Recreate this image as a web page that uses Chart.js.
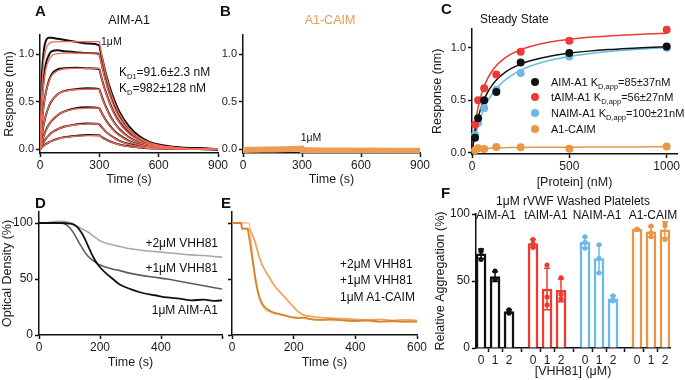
<!DOCTYPE html>
<html>
<head>
<meta charset="utf-8">
<script src="https://cdn.jsdelivr.net/npm/chart.js@4.4.1/dist/chart.umd.min.js"></script>
<style>
  html, body { margin: 0; padding: 0; background: #fff; }
  #fig { position: relative; width: 685px; height: 380px; overflow: hidden; font-family: 'Liberation Sans', Arial, sans-serif; color: #1a1a1a; }
  #fig canvas { position: absolute; }
  .lbl { position: absolute; white-space: nowrap; line-height: 1; }
  .lbl sub { font-size: 7.5px; vertical-align: -3px; line-height: 0; }
  .dot { position: absolute; width: 8px; height: 8px; border-radius: 50%; transform: translate(-50%, -50%); }
</style>
</head>
<body>
<div id="fig"></div>
<script>
// ---------- A: AIM-A1 binding traces (7 concentrations, top = 1 uM) ----------
const timeA = [0, 5, 10, 20, 30, 45, 60, 90, 120, 180, 240, 300, 305, 315, 330, 350, 375, 400, 450, 500, 550, 600, 700, 800, 900];
const aimTraces = [
  [0, 0.5, 0.8, 1.05, 1.14, 1.17, 1.17, 1.16, 1.15, 1.13, 1.11, 1.09, 1.04, 0.95, 0.82, 0.67, 0.52, 0.4, 0.24, 0.14, 0.08, 0.05, 0.02, 0.01, 0],
  [0, 0.3, 0.5, 0.76, 0.9, 0.99, 1.03, 1.04, 1.03, 1.02, 1.01, 1.0, 0.96, 0.87, 0.74, 0.6, 0.46, 0.35, 0.2, 0.12, 0.07, 0.04, 0.015, 0.01, 0],
  [0, 0.16, 0.29, 0.48, 0.6, 0.72, 0.79, 0.84, 0.85, 0.855, 0.85, 0.84, 0.8, 0.72, 0.62, 0.5, 0.38, 0.29, 0.17, 0.1, 0.06, 0.035, 0.012, 0.005, 0],
  [0, 0.08, 0.15, 0.27, 0.36, 0.45, 0.51, 0.58, 0.61, 0.63, 0.64, 0.63, 0.6, 0.54, 0.46, 0.37, 0.28, 0.215, 0.125, 0.072, 0.042, 0.025, 0.01, 0.004, 0],
  [0, 0.04, 0.08, 0.145, 0.2, 0.26, 0.3, 0.36, 0.395, 0.43, 0.44, 0.43, 0.41, 0.37, 0.315, 0.255, 0.195, 0.15, 0.088, 0.05, 0.03, 0.018, 0.006, 0.002, 0],
  [0, 0.02, 0.04, 0.08, 0.11, 0.145, 0.175, 0.21, 0.235, 0.26, 0.27, 0.265, 0.25, 0.225, 0.19, 0.155, 0.12, 0.09, 0.054, 0.032, 0.02, 0.012, 0.004, 0.001, 0],
  [0, 0.01, 0.02, 0.04, 0.055, 0.073, 0.088, 0.11, 0.125, 0.14, 0.148, 0.146, 0.138, 0.124, 0.106, 0.086, 0.066, 0.05, 0.03, 0.018, 0.01, 0.006, 0.002, 0.001, 0]
];
const aimFits = [
  [0, 0.41, 0.67, 0.94, 1.05, 1.11, 1.125, 1.13, 1.13, 1.13, 1.13, 1.13, 1.07, 0.96, 0.81, 0.65, 0.495, 0.376, 0.217, 0.125, 0.072, 0.042, 0.014, 0.005, 0],
  [0, 0.26, 0.455, 0.705, 0.845, 0.94, 0.985, 1.005, 1.01, 1.01, 1.01, 1.01, 0.955, 0.856, 0.726, 0.583, 0.442, 0.336, 0.194, 0.112, 0.065, 0.037, 0.012, 0.004, 0],
  [0, 0.155, 0.28, 0.47, 0.595, 0.71, 0.775, 0.825, 0.845, 0.85, 0.85, 0.85, 0.804, 0.721, 0.611, 0.49, 0.372, 0.283, 0.163, 0.094, 0.054, 0.031, 0.01, 0.003, 0],
  [0, 0.083, 0.154, 0.27, 0.358, 0.451, 0.513, 0.58, 0.608, 0.626, 0.63, 0.63, 0.596, 0.534, 0.453, 0.364, 0.276, 0.21, 0.121, 0.07, 0.04, 0.023, 0.008, 0.003, 0],
  [0, 0.041, 0.079, 0.144, 0.196, 0.258, 0.304, 0.363, 0.395, 0.423, 0.431, 0.434, 0.41, 0.368, 0.312, 0.25, 0.19, 0.145, 0.083, 0.048, 0.028, 0.016, 0.005, 0.002, 0],
  [0, 0.022, 0.042, 0.078, 0.108, 0.144, 0.173, 0.211, 0.235, 0.257, 0.265, 0.268, 0.254, 0.227, 0.193, 0.155, 0.117, 0.089, 0.051, 0.03, 0.017, 0.01, 0.003, 0.001, 0],
  [0, 0.011, 0.02, 0.038, 0.053, 0.072, 0.087, 0.109, 0.123, 0.137, 0.143, 0.145, 0.137, 0.123, 0.104, 0.084, 0.064, 0.048, 0.028, 0.016, 0.009, 0.005, 0.002, 0.001, 0]
];

// ---------- B: A1-CAIM, 1 uM ----------
const timeB = [0, 50, 100, 150, 200, 250, 299, 301, 350, 400, 450, 500, 550, 600, 650, 700, 750, 800, 850, 900];
const caimTrace = [-0.008, -0.006, -0.004, -0.002, 0, 0.002, 0.006, -0.01, -0.012, -0.013, -0.014, -0.015, -0.014, -0.016, -0.015, -0.016, -0.017, -0.016, -0.017, -0.017];

// ---------- C: steady state ----------
const proteinConc = [15.6, 31.25, 62.5, 125, 250, 500, 1000];
const ssAIM = [0.145, 0.33, 0.5, 0.58, 0.86, 0.95, 1.01];
const ssTAIM = [0.27, 0.5, 0.615, 0.745, 0.96, 1.065, 1.17];
const ssNAIM = [0.17, 0.285, 0.425, 0.6, 0.76, 0.915, 1.0];
const ssCAIM = [0.025, 0.045, 0.038, 0.057, 0.053, 0.04, 0.062];
const fitConc = [0, 5, 10, 20, 30, 45, 60, 80, 100, 130, 160, 200, 250, 300, 400, 500, 600, 700, 800, 900, 1000];
const fitAIM = [0, 0.072, 0.135, 0.24, 0.324, 0.423, 0.498, 0.576, 0.635, 0.702, 0.751, 0.8, 0.844, 0.876, 0.919, 0.947, 0.967, 0.982, 0.993, 1.002, 1.009];
const fitTAIM = [0, 0.098, 0.182, 0.316, 0.419, 0.535, 0.621, 0.706, 0.769, 0.839, 0.889, 0.938, 0.98, 1.011, 1.053, 1.079, 1.098, 1.111, 1.121, 1.13, 1.136];
const fitNAIM = [0, 0.052, 0.1, 0.183, 0.254, 0.341, 0.413, 0.489, 0.55, 0.622, 0.677, 0.733, 0.786, 0.825, 0.88, 0.917, 0.943, 0.963, 0.978, 0.99, 1.0];
const fitCAIM = [0, 0.012, 0.02, 0.03, 0.035, 0.04, 0.043, 0.045, 0.047, 0.048, 0.05, 0.051, 0.052, 0.053, 0.054, 0.055, 0.056, 0.057, 0.057, 0.058, 0.058];

// ---------- D: aggregometry AIM-A1 ----------
const timeD = [0, 30, 60, 80, 100, 110, 120, 130, 140, 150, 160, 170, 180, 190, 200, 220, 240, 265, 300, 340, 380, 420, 460, 500, 540, 580, 600];
const odAIM = [100, 100, 100, 100, 99.5, 99, 97.5, 95, 91, 86, 80, 74, 68.5, 64, 60.5, 55, 50.5, 45, 41, 37.5, 35.5, 33.5, 32.5, 31, 31.5, 30.5, 31];
const odAIM1 = [100, 100, 100, 99.5, 96, 92.5, 88, 83, 78.5, 74, 70.5, 68, 66, 64, 62.5, 60.5, 59, 57.5, 55, 53, 51.5, 50, 48, 46, 44, 42, 41];
const odAIM2 = [null, 100.5, 101.5, 101.5, 100.5, 99.5, 98, 96.5, 95, 93.5, 92, 90, 88, 86, 84, 82, 80.5, 79, 77, 75.5, 74.5, 73.5, 72.5, 71.5, 71, 70, 69.5];

// ---------- E: aggregometry A1-CAIM ----------
const timeE = [0, 30, 32, 50, 55, 60, 65, 70, 75, 80, 90, 100, 110, 120, 135, 150, 170, 190, 210, 230, 260, 290, 320, 360, 400, 440, 480, 520, 560, 600];
const odCAIM = [100, 100, 95, 95, 88, 80, 70, 61, 52, 44, 33, 27, 24, 22, 20, 19, 17.5, 16, 15, 15.5, 14, 13.5, 14, 13, 12.5, 13, 12, 12.5, 12, 12];
const odCAIM1 = [100, 100, 100, 100, 100, 90, 75, 62, 50, 42, 31, 26, 22, 21, 19.5, 18.5, 17.5, 16.5, 16, 15, 14, 13.5, 13, 13, 12.5, 12.5, 12, 12, 12, 12];
const odCAIM2 = [100, 100, 95, 95, 94.5, 93, 90, 87, 83, 78, 68, 61.5, 56.5, 52, 45, 40, 34, 28, 22, 18, 16.5, 15.5, 15, 14.5, 14, 13.5, 14, 13, 13.5, 13];

// ---------- F: washed platelet aggregation ----------
const constructs = ['AIM-A1', 'tAIM-A1', 'NAIM-A1', 'A1-CAIM'];
const vhhLevels = ['0', '1', '2'];
const aggMean = [[70.3, 53.3, 27.2], [78, 44, 43], [78.8, 66.7, 36.7], [88.5, 86.7, 88.2]];
const aggSD = [[3.5, 3.6, 1.3], [3, 15.5, 8.5], [4, 10.5, 2.2], [0.4, 4, 6]];
const aggReps = [
  [[73, 72, 66], [57.5, 51.5, 51], [28.5, 27, 26]],
  [[81, 78, 75], [62, 38, 32], [52.5, 40, 36.5]],
  [[83, 79, 74.5], [77, 67, 56], [39, 36, 35]],
  [[88.8, 88.5, 88.2], [91, 86, 83], [92.5, 91, 81]]
];

const BLACK = '#111', RED = '#ee3a30', BLUE = '#6cb8e8', ORANGE = '#ea9644';
const groupColors = [BLACK, RED, BLUE, ORANGE];
const GROUP_STEP = 3.714;
const barPos = (g, j) => g * GROUP_STEP + j;

Chart.defaults.font.family = "'Liberation Sans', Arial, sans-serif";
Chart.defaults.color = '#1a1a1a';

const fig = document.getElementById('fig');

function axis(o) {
  return {
    type: 'linear', min: o.min, max: o.max, offset: false,
    border: { display: true, color: '#111', width: 1.5 },
    grid: { display: true, drawOnChartArea: false, drawTicks: true, tickLength: 4, color: '#111', tickWidth: 1.5 },
    ticks: { display: o.showLabels !== false, autoSkip: false, maxRotation: 0, padding: o.pad == null ? 1 : o.pad,
             font: { size: o.size || 12 }, color: '#1a1a1a', callback: o.fmt || (v => String(v)) },
    afterBuildTicks: s => { s.ticks = o.ticks.map(v => ({ value: v })); },
    title: o.title ? { display: true, text: o.title, font: { size: 12.5 }, color: '#1a1a1a', padding: { top: o.tp || 0, bottom: o.tp || 0 } } : { display: false },
    afterFit: s => {
      if (o.w != null) s.width = o.w;
      if (o.h != null) s.height = o.h;
      s.paddingLeft = s.paddingRight = s.paddingTop = s.paddingBottom = 0;
    }
  };
}

function makeChart(box, pad, config) {
  const cv = document.createElement('canvas');
  cv.width = box[2]; cv.height = box[3];
  cv.style.left = box[0] + 'px'; cv.style.top = box[1] + 'px';
  cv.style.width = box[2] + 'px'; cv.style.height = box[3] + 'px';
  fig.appendChild(cv);
  config.options = Object.assign({
    responsive: false, animation: false, events: [],
    layout: { padding: Object.assign({ left: 0, right: 0, top: 0, bottom: 0 }, pad) },
    plugins: { legend: { display: false }, tooltip: { enabled: false } }
  }, config.options);
  return new Chart(cv, config);
}

function series(xs, ys, color, width, extra) {
  return Object.assign({
    type: 'line', data: xs.map((x, i) => ({ x, y: ys[i] })), borderColor: color, borderWidth: width,
    pointRadius: 0, fill: false, cubicInterpolationMode: 'monotone'
  }, extra || {});
}

function dots(xs, ys, color) {
  return { type: 'scatter', data: xs.map((x, i) => ({ x, y: ys[i] })), pointRadius: 4, pointBackgroundColor: color,
           pointBorderWidth: 0, showLine: false, clip: 8 };
}

// A
makeChart([0, 0, 228, 190], { top: 35, right: 10 }, {
  type: 'line',
  data: { datasets: [
    ...aimFits.map(f => series(timeA, f, '#f26a58', 1.3)),
    ...aimTraces.map(t => series(timeA, t, BLACK, 2))
  ] },
  options: { scales: {
    x: axis({ min: 0, max: 900, ticks: [0, 300, 600, 900], h: 37, title: 'Time (s)', tp: 3 }),
    y: axis({ min: -0.04, max: 1.2, ticks: [0, 0.5, 1], fmt: v => v.toFixed(1), size: 11, w: 40, pad: 2, title: 'Response (nm)', tp: 2 })
  } }
});

// B
makeChart([220, 0, 210, 190], { top: 35, right: 10 }, {
  type: 'line',
  data: { datasets: [series(timeB, caimTrace, '#ed9b55', 6, { cubicInterpolationMode: 'default', tension: 0 })] },
  options: { scales: {
    x: axis({ min: 0, max: 900, ticks: [0, 300, 600, 900], h: 37, title: 'Time (s)', tp: 3 }),
    y: axis({ min: -0.04, max: 1.2, ticks: [0, 0.5, 1], fmt: v => v.toFixed(1), size: 11, w: 23, pad: 2 })
  } }
});

// C
makeChart([428, 0, 257, 190], { top: 28.7, right: 8 }, {
  type: 'scatter',
  data: { datasets: [
    dots(proteinConc, ssAIM, BLACK), dots(proteinConc, ssTAIM, RED), dots(proteinConc, ssNAIM, BLUE), dots(proteinConc, ssCAIM, ORANGE),
    series(fitConc, fitAIM, BLACK, 1.5), series(fitConc, fitTAIM, RED, 1.5), series(fitConc, fitNAIM, BLUE, 1.5), series(fitConc, fitCAIM, ORANGE, 1.5)
  ] },
  options: { scales: {
    x: axis({ min: 0, max: 1053, ticks: [0, 500, 1000], h: 36, title: '[Protein] (nM)', tp: 0 }),
    y: axis({ min: -0.01, max: 1.18, ticks: [0, 0.5, 1], fmt: v => v.toFixed(1), size: 11, w: 44, pad: 2, title: 'Response (nm)', tp: 2 })
  } }
});

// D
makeChart([0, 190, 228, 190], { top: 21.8, right: 6 }, {
  type: 'line',
  data: { datasets: [
    series(timeD, odAIM, BLACK, 1.8), series(timeD, odAIM1, '#5c5c5c', 1.6), series(timeD, odAIM2, '#a9a9a9', 1.6)
  ] },
  options: { scales: {
    x: axis({ min: 0, max: 600, ticks: [0, 200, 400, 600], fmt: v => v === 600 ? '' : String(v), h: 45, title: 'Time (s)', tp: 10 }),
    y: axis({ min: 0, max: 110, ticks: [0, 50, 100], w: 39, pad: 2, title: 'Optical Density (%)', tp: 0 })
  } }
});

// E
makeChart([222, 190, 205, 190], { top: 21.8, right: 10 }, {
  type: 'line',
  data: { datasets: [
    series(timeE, odCAIM, '#d9822b', 1.8), series(timeE, odCAIM2, '#e9a862', 1.8), series(timeE, odCAIM1, '#f3d0a8', 1.8)
  ] },
  options: { scales: {
    x: axis({ min: 0, max: 600, ticks: [0, 200, 400, 600], h: 45, title: 'Time (s)', tp: 10 }),
    y: axis({ min: 0, max: 110, ticks: [0, 50, 100], w: 10, showLabels: false })
  } }
});

// F
const barData = [], barBorders = [], repData = [], repColors = [], barTicks = [];
constructs.forEach((c, g) => {
  vhhLevels.forEach((lv, j) => {
    barData.push({ x: barPos(g, j), y: aggMean[g][j] });
    barBorders.push(groupColors[g]);
    barTicks.push(barPos(g, j));
    aggReps[g][j].forEach(v => { repData.push({ x: barPos(g, j), y: v }); repColors.push(groupColors[g]); });
  });
});
const errorBars = {
  id: 'errorBars',
  afterDatasetsDraw(chart) {
    const { ctx, scales: { x, y } } = chart;
    ctx.save();
    ctx.lineWidth = 1.5;
    constructs.forEach((c, g) => {
      aggMean[g].forEach((m, j) => {
        const px = x.getPixelForValue(barPos(g, j));
        const top = y.getPixelForValue(m + aggSD[g][j]);
        const bot = y.getPixelForValue(m - aggSD[g][j]);
        ctx.strokeStyle = groupColors[g];
        ctx.beginPath();
        ctx.moveTo(px, top); ctx.lineTo(px, bot);
        ctx.moveTo(px - 3, top); ctx.lineTo(px + 3, top);
        ctx.moveTo(px - 3, bot); ctx.lineTo(px + 3, bot);
        ctx.stroke();
      });
    });
    ctx.restore();
  }
};
makeChart([428, 190, 257, 190], { top: 24, right: 15 }, {
  type: 'bar',
  data: { datasets: [
    { type: 'scatter', data: repData, pointRadius: 2.5, pointBackgroundColor: repColors, pointBorderWidth: 0, order: 0, clip: 6 },
    { type: 'bar', data: barData, backgroundColor: '#fff', borderColor: barBorders, borderWidth: 2.5, barThickness: 10, order: 1 }
  ] },
  options: { scales: {
    x: axis({ min: -0.36, max: 13.5, ticks: barTicks, fmt: (v, i) => vhhLevels[i % 3], h: 32, title: '[VHH81] (μM)', tp: 1 }),
    y: axis({ min: 0, max: 100, ticks: [0, 50, 100], w: 48, pad: 2, title: 'Relative Aggregation (%)', tp: 5 })
  } },
  plugins: [errorBars]
});

// text overlays: [html, x, y(center), anchor, size, color, weight]
const texts = [
  ['A', 35, 10, 'l', 15, BLACK, 'bold'],
  ['B', 220, 10, 'l', 15, BLACK, 'bold'],
  ['C', 441, 8, 'l', 15, BLACK, 'bold'],
  ['D', 35, 202, 'l', 15, BLACK, 'bold'],
  ['E', 221, 202, 'l', 15, BLACK, 'bold'],
  ['F', 441, 192, 'l', 15, BLACK, 'bold'],
  ['AIM-A1', 129, 20, 'c', 12.5, BLACK],
  ['A1-CAIM', 330, 20, 'c', 12.5, '#eb9a4e'],
  ['1μM', 101, 41, 'l', 10.5, BLACK],
  ['K<sub>D1</sub>=91.6±2.3 nM', 119, 72, 'l', 12, BLACK],
  ['K<sub>D</sub>=982±128 nM', 119, 88, 'l', 12, BLACK],
  ['1μM', 311, 137, 'c', 10.5, BLACK],
  ['Steady State', 480, 19, 'l', 12, BLACK],
  ['AIM-A1 K<sub>D,app</sub>=85±37nM', 551, 81.5, 'l', 11, BLACK],
  ['tAIM-A1 K<sub>D,app</sub>=56±27nM', 551, 97.3, 'l', 11, BLACK],
  ['NAIM-A1 K<sub>D,app</sub>=100±21nM', 551, 113, 'l', 11, BLACK],
  ['A1-CAIM', 551, 128.7, 'l', 11, BLACK],
  ['+2μM VHH81', 218, 243, 'r', 12, BLACK],
  ['+1μM VHH81', 218, 268, 'r', 12, BLACK],
  ['1μM AIM-A1', 218, 310, 'r', 12, BLACK],
  ['+2μM VHH81', 340, 264, 'l', 12, BLACK],
  ['+1μM VHH81', 340, 280, 'l', 12, BLACK],
  ['1μM A1-CAIM', 340, 297, 'l', 12, BLACK],
  ['1μM rVWF Washed Platelets', 573, 201, 'c', 12, BLACK],
  ...constructs.map((c, g) => [c, [496, 546, 597, 653][g], 215, 'c', 12, BLACK])
];
texts.forEach(([html, x, y, anchor, size, color, weight]) => {
  const el = document.createElement('div');
  el.className = 'lbl';
  el.innerHTML = html;
  el.style.left = x + 'px';
  el.style.top = y + 'px';
  el.style.fontSize = size + 'px';
  el.style.color = color;
  if (weight) el.style.fontWeight = weight;
  const tx = anchor === 'c' ? '-50%' : anchor === 'r' ? '-100%' : '0';
  el.style.transform = `translate(${tx}, -50%)`;
  fig.appendChild(el);
});
// legend markers for C
[BLACK, RED, BLUE, ORANGE].forEach((col, i) => {
  const d = document.createElement('div');
  d.className = 'dot';
  d.style.background = col;
  d.style.left = '535px';
  d.style.top = [81.5, 97.3, 113, 128.7][i] + 'px';
  fig.appendChild(d);
});
</script>
</body>
</html>
